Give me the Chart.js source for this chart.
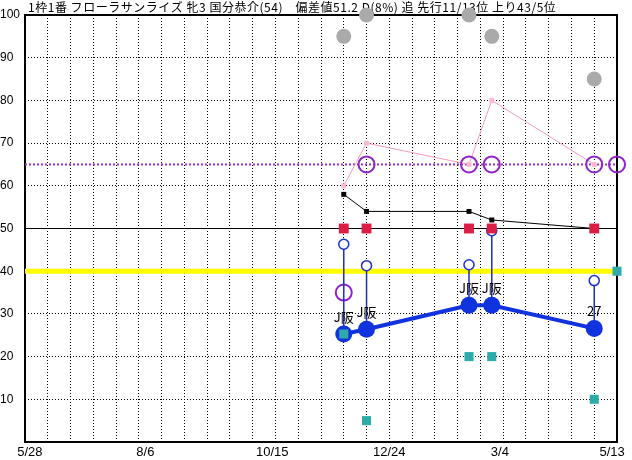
<!DOCTYPE html>
<html>
<head>
<meta charset="utf-8">
<script src="https://cdn.jsdelivr.net/npm/chart.js@4.4.1/dist/chart.umd.min.js"></script>
<style>
  html, body { margin: 0; padding: 0; background: #fff; }
  #wrap { width: 632px; height: 460px; }
</style>
</head>
<body>
<div id="wrap"><canvas id="chart" width="632" height="460"></canvas></div>
<script>
(function () {
  // x values are days counted from 5/28
  const raceDays = [196, 210, 273, 287, 350];
  const edgeDay = 364;
  const allDays = raceDays.concat([edgeDay]);

  const dateLabels = ['5/28', '8/6', '10/15', '12/24', '3/4', '5/13'];
  const dateLabelDays = [3, 74, 152, 224, 292, 361];

  const titleText = '1枠1番 フローラサンライズ 牝3 国分恭介(54)　偏差値51.2 D(8%) 追 先行11/13位 上り43/5位';

  // series
  const grayMarks = [95, 100, 100, 95, 85];
  const pinkLine = [60, 70, 65, 80, 65];
  const purpleRings = [35, 65, 65, 65, 65, 65];
  const blackLine = [58, 54, 54, 52, 50];
  const redMarks = [50, 50, 50, 50, 50];
  const blueRings = [46.3, 41.3, 41.5, 49.5, 37.8];
  const blueDots = [25.3, 26.4, 32, 32, 26.6];
  const tealMarks = [25.3, 5, 20, 20, 10, 40];
  const dotLabels = ['J阪', 'J阪', 'J阪', 'J阪', '27'];

  // horizontal reference levels
  const yellowLevel = 40;
  const blackLevel = 50;
  const purpleLevel = 65;

  const pts = (vals, days) => vals.map((v, i) => ({ x: days[i], y: v }));
  const level = v => [{ x: 0, y: v }, { x: edgeDay, y: v }];

  // listed bottom -> top
  const layers = [
    { data: level(yellowLevel), showLine: true, borderColor: '#ffff00', borderWidth: 5, pointRadius: 0 },
    { data: level(blackLevel), showLine: true, borderColor: '#000000', borderWidth: 1, pointRadius: 0 },
    { data: level(purpleLevel), showLine: true, borderColor: '#9933cc', borderWidth: 2, borderDash: [2, 2], pointRadius: 0 },
    { data: pts(grayMarks, raceDays), showLine: false, pointRadius: 7.5, pointBackgroundColor: '#aaaaaa', pointBorderWidth: 0 },
    { data: pts(pinkLine, raceDays), showLine: true, borderColor: '#f59ac2', borderWidth: 1,
      pointStyle: 'rect', pointRadius: 3.5, pointBackgroundColor: '#ffb8d0', pointBorderWidth: 0 },
    { data: pts(purpleRings, allDays), showLine: false, pointRadius: 8, pointBackgroundColor: 'rgba(0,0,0,0)',
      pointBorderColor: '#8e24c8', pointBorderWidth: 2 },
    { data: pts(blackLine, raceDays), showLine: true, borderColor: '#000000', borderWidth: 1,
      pointStyle: 'rect', pointRadius: 3.5, pointBackgroundColor: '#000000', pointBorderWidth: 0 }
  ];

  // vertical connectors from the small ring down to the big dot
  raceDays.forEach((d, i) => {
    layers.push({ data: [{ x: d, y: blueRings[i] }, { x: d, y: blueDots[i] }], showLine: true,
      borderColor: '#2030b8', borderWidth: 1.5, pointRadius: 0 });
  });

  layers.push(
    { data: pts(blueRings, raceDays), showLine: false, pointRadius: 5, pointBackgroundColor: '#ffffff',
      pointBorderColor: '#1a2fd0', pointBorderWidth: 1.5 },
    { data: pts(redMarks, raceDays), showLine: false, pointStyle: 'rect', pointRadius: 7,
      pointBackgroundColor: '#dc1e46', pointBorderWidth: 0 },
    { data: pts(blueDots, raceDays), showLine: true, borderColor: '#1133dd', borderWidth: 4,
      pointRadius: 8.5, pointBackgroundColor: '#1133dd', pointBorderWidth: 0 },
    { data: pts(tealMarks, allDays), showLine: false, pointStyle: 'rect', pointRadius: 6.4,
      pointBackgroundColor: '#2eaaa8', pointBorderWidth: 0 }
  );

  const datasets = layers.map((ds, i) => Object.assign({ order: layers.length - i, clip: false, tension: 0 }, ds));

  const underlay = {
    id: 'underlay',
    beforeDatasetsDraw(chart) {
      const { ctx, chartArea: a } = chart;
      ctx.save();
      ctx.strokeStyle = '#000';
      ctx.lineWidth = 2;
      ctx.strokeRect(a.left, a.top, a.right - a.left, a.bottom - a.top);
      ctx.fillStyle = '#000';
      ctx.font = '12px "Noto Sans CJK JP"';
      ctx.textBaseline = 'middle';
      ctx.textAlign = 'left';
      // spread the title so it runs from x=28 to about x=556 like the original
      const w = ctx.measureText(titleText).width;
      const gap = (528 - w) / (titleText.length - 1);
      if ('letterSpacing' in ctx && gap > 0) {
        ctx.letterSpacing = gap.toFixed(2) + 'px';
      }
      ctx.fillText(titleText, 28, 7);
      ctx.restore();
    }
  };

  const dotText = {
    id: 'dotText',
    afterDatasetsDraw(chart) {
      const { ctx, scales } = chart;
      ctx.save();
      ctx.fillStyle = '#000';
      ctx.font = '13px "Noto Sans CJK JP"';
      ctx.textAlign = 'center';
      ctx.textBaseline = 'middle';
      dotLabels.forEach((t, i) => {
        const x = scales.x.getPixelForValue(raceDays[i]);
        const y = scales.y.getPixelForValue(blueDots[i]);
        ctx.fillText(t, x, y - 17);
      });
      ctx.restore();
    }
  };

  new Chart(document.getElementById('chart').getContext('2d'), {
    type: 'scatter',
    data: { datasets },
    options: {
      responsive: false,
      animation: false,
      events: [],
      layout: { padding: { top: 15, right: 15, left: 0, bottom: 0 } },
      plugins: { legend: { display: false }, tooltip: { enabled: false } },
      scales: {
        x: {
          type: 'linear', min: 0, max: edgeDay, position: 'bottom',
          afterFit(s) { s.height = 0; },
          ticks: { display: false, stepSize: 14 },
          grid: { color: '#000', lineWidth: 1, drawTicks: false },
          border: { display: false, dash: [1, 2] }
        },
        xDates: {
          type: 'linear', min: 0, max: edgeDay, position: 'bottom',
          afterFit(s) { s.height = 18; },
          afterBuildTicks(s) { s.ticks = dateLabelDays.map(v => ({ value: v })); },
          ticks: {
            autoSkip: false, maxRotation: 0, padding: 3, color: '#000',
            font: { family: 'Liberation Sans', size: 13 },
            callback: (v, i) => dateLabels[i]
          },
          grid: { display: false, drawTicks: false },
          border: { display: false }
        },
        y: {
          min: 0, max: 100,
          afterFit(s) { s.width = 25; },
          ticks: {
            stepSize: 10, crossAlign: 'far', padding: 2, color: '#000',
            font: { family: 'Liberation Sans', size: 12 },
            callback: v => (v === 0 ? '' : String(v))
          },
          grid: { color: '#000', lineWidth: 1, drawTicks: false },
          border: { display: false, dash: [1, 2] }
        }
      }
    },
    plugins: [underlay, dotText]
  });
})();
</script>
</body>
</html>
